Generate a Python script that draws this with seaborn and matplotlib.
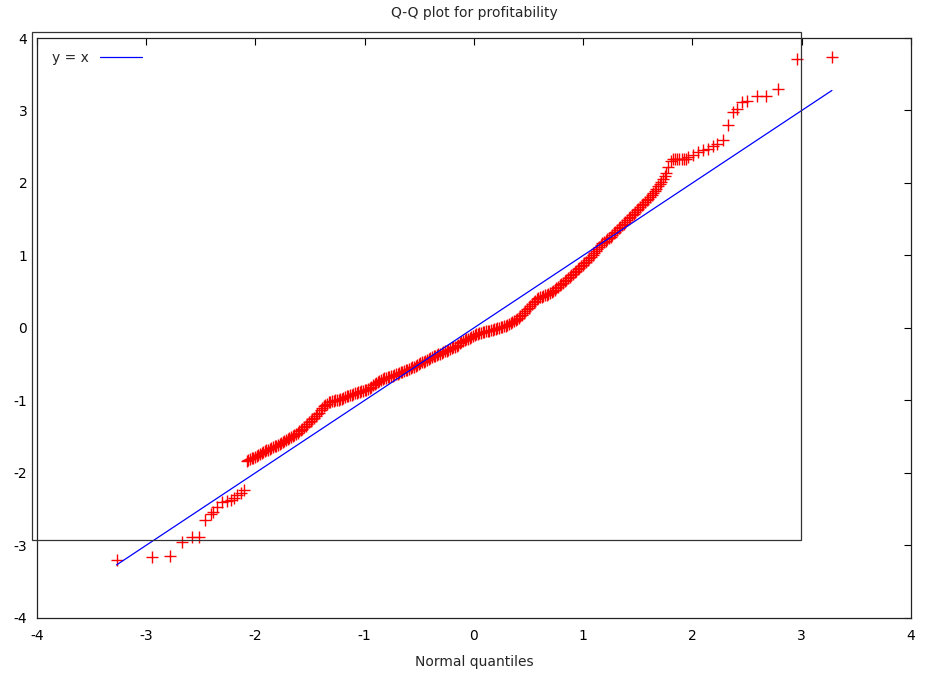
import numpy as np
import pandas as pd
import matplotlib
matplotlib.use("Agg")
import matplotlib.pyplot as plt
import seaborn as sns
from matplotlib.patches import Rectangle

# Normal quantiles (x) and sorted profitability values (y)
lower_x = [-3.272, -2.946, -2.784, -2.677, -2.585, -2.518, -2.463, -2.411, -2.387,
           -2.351, -2.311, -2.265, -2.228, -2.195, -2.168, -2.137, -2.106]
lower_y = [-3.198, -3.166, -3.148, -2.955, -2.890, -2.886, -2.646, -2.573, -2.541,
           -2.472, -2.403, -2.393, -2.370, -2.342, -2.310, -2.279, -2.232]

mid_x = [-2.08, -2.05, -2.02, -1.99, -1.96, -1.93, -1.90, -1.87, -1.84, -1.81,
         -1.78, -1.75, -1.72, -1.69, -1.66, -1.63, -1.60, -1.57, -1.54, -1.51,
         -1.48, -1.45, -1.42, -1.39, -1.36, -1.33, -1.30, -1.27, -1.24, -1.21,
         -1.18, -1.15, -1.12, -1.09, -1.06, -1.03, -1.00, -0.97, -0.94, -0.91,
         -0.88, -0.85, -0.82, -0.79, -0.76, -0.73, -0.70, -0.67, -0.64, -0.61,
         -0.58, -0.55, -0.52, -0.49, -0.46, -0.43, -0.40, -0.37, -0.34, -0.31,
         -0.28, -0.25, -0.22, -0.19, -0.16, -0.13, -0.10, -0.07, -0.04, -0.01,
         0.02, 0.05, 0.08, 0.11, 0.14, 0.17, 0.20, 0.23, 0.26, 0.29,
         0.32, 0.35, 0.38, 0.41, 0.44, 0.47, 0.50, 0.53, 0.56, 0.59,
         0.62, 0.65, 0.68, 0.71, 0.74, 0.77, 0.80, 0.83, 0.86, 0.89,
         0.92, 0.95, 0.98, 1.01, 1.04, 1.07, 1.10, 1.13, 1.16, 1.19,
         1.22, 1.25, 1.28, 1.31, 1.34, 1.37, 1.40, 1.43, 1.46, 1.49,
         1.52, 1.55, 1.58, 1.61, 1.64, 1.67, 1.70, 1.73, 1.76, 1.78, 1.80]
mid_y = [-1.835, -1.815, -1.790, -1.765, -1.740, -1.713, -1.690, -1.670, -1.645, -1.625,
         -1.600, -1.575, -1.550, -1.520, -1.495, -1.465, -1.430, -1.390, -1.350, -1.305,
         -1.260, -1.220, -1.170, -1.110, -1.060, -1.030, -1.010, -1.000, -0.990, -0.975,
         -0.955, -0.935, -0.920, -0.905, -0.890, -0.875, -0.860, -0.845, -0.810, -0.775,
         -0.745, -0.720, -0.695, -0.680, -0.665, -0.650, -0.635, -0.615, -0.595, -0.575,
         -0.555, -0.535, -0.515, -0.490, -0.465, -0.440, -0.415, -0.395, -0.375, -0.355,
         -0.335, -0.315, -0.295, -0.270, -0.245, -0.215, -0.185, -0.160, -0.135, -0.110,
         -0.090, -0.075, -0.060, -0.050, -0.040, -0.025, -0.010, 0.000, 0.010, 0.030,
         0.055, 0.080, 0.110, 0.140, 0.180, 0.230, 0.280, 0.330, 0.375, 0.410,
         0.430, 0.450, 0.470, 0.495, 0.525, 0.565, 0.605, 0.645, 0.685, 0.725,
         0.770, 0.810, 0.850, 0.890, 0.935, 0.980, 1.030, 1.090, 1.145, 1.185,
         1.225, 1.260, 1.305, 1.350, 1.395, 1.440, 1.490, 1.530, 1.575, 1.620,
         1.670, 1.715, 1.760, 1.805, 1.860, 1.920, 1.985, 2.050, 2.140, 2.220, 2.300]

# further readings of the dense band, between the ones above
band_x = [-2.065, -2.035, -2.005, -1.975, -1.945, -1.915, -1.885, -1.855, -1.825, -1.795,
          -1.765, -1.735, -1.705, -1.675, -1.645, -1.615, -1.585, -1.555, -1.525, -1.495,
          -1.465, -1.435, -1.405, -1.375, -1.345, -1.315, -1.285, -1.255, -1.225, -1.195,
          -1.165, -1.135, -1.105, -1.075, -1.045, -1.015, -0.985, -0.955, -0.925, -0.895,
          -0.865, -0.835, -0.805, -0.775, -0.745, -0.715, -0.685, -0.655, -0.625, -0.595,
          -0.565, -0.535, -0.505, -0.475, -0.445, -0.415, -0.385, -0.355, -0.325, -0.295,
          -0.265, -0.235, -0.205, -0.175, -0.145, -0.115, -0.085, -0.055, -0.025, 0.005,
          0.035, 0.065, 0.095, 0.125, 0.155, 0.185, 0.215, 0.245, 0.275, 0.305,
          0.335, 0.365, 0.395, 0.425, 0.455, 0.485, 0.515, 0.545, 0.575, 0.605,
          0.635, 0.665, 0.695, 0.725, 0.755, 0.785, 0.815, 0.845, 0.875, 0.905,
          0.935, 0.965, 0.995, 1.025, 1.055, 1.085, 1.115, 1.145, 1.175, 1.205,
          1.235, 1.265, 1.295, 1.325, 1.355, 1.385, 1.415, 1.445, 1.475, 1.505,
          1.535, 1.565, 1.595, 1.625, 1.655, 1.685, 1.715, 1.745]
band_y = [-1.825, -1.802, -1.778, -1.752, -1.727, -1.702, -1.680, -1.657, -1.635, -1.612,
          -1.588, -1.562, -1.535, -1.508, -1.480, -1.448, -1.410, -1.370, -1.328, -1.282,
          -1.240, -1.195, -1.140, -1.085, -1.045, -1.020, -1.005, -0.995, -0.982, -0.965,
          -0.945, -0.928, -0.912, -0.898, -0.882, -0.868, -0.852, -0.828, -0.792, -0.760,
          -0.732, -0.708, -0.688, -0.672, -0.658, -0.642, -0.625, -0.605, -0.585, -0.565,
          -0.545, -0.525, -0.502, -0.478, -0.452, -0.428, -0.405, -0.385, -0.365, -0.345,
          -0.325, -0.305, -0.282, -0.258, -0.230, -0.200, -0.172, -0.148, -0.122, -0.100,
          -0.082, -0.068, -0.055, -0.045, -0.032, -0.018, -0.005, 0.005, 0.020, 0.042,
          0.068, 0.095, 0.125, 0.160, 0.205, 0.255, 0.305, 0.352, 0.392, 0.420,
          0.440, 0.460, 0.482, 0.510, 0.545, 0.585, 0.625, 0.665, 0.705, 0.748,
          0.790, 0.830, 0.870, 0.912, 0.958, 1.005, 1.060, 1.118, 1.165, 1.205,
          1.242, 1.282, 1.328, 1.372, 1.418, 1.465, 1.510, 1.552, 1.598, 1.645,
          1.692, 1.738, 1.782, 1.832, 1.890, 1.952, 2.018, 2.095]

flat_x = [1.82, 1.84, 1.86, 1.88, 1.90, 1.92, 1.94]
flat_y = [2.325, 2.325, 2.325, 2.325, 2.325, 2.325, 2.330]

upper_x = [1.962, 2.008, 2.054, 2.100, 2.146, 2.186, 2.228, 2.283, 2.329, 2.375,
           2.411, 2.451, 2.497, 2.589, 2.674, 2.787, 2.955, 3.276]
upper_y = [2.359, 2.382, 2.420, 2.451, 2.474, 2.506, 2.534, 2.589, 2.796, 2.980,
           3.017, 3.110, 3.132, 3.201, 3.201, 3.293, 3.717, 3.731]

x_ticks = [-4, -3, -2, -1, 0, 1, 2, 3, 4]
y_ticks = [-4, -3, -2, -1, 0, 1, 2, 3, 4]

qx = lower_x + mid_x + band_x + flat_x + upper_x
qy = lower_y + mid_y + band_y + flat_y + upper_y
df = pd.DataFrame({"normal": qx, "profitability": qy}).sort_values("normal")
ref = pd.DataFrame({"x": [min(qx), max(qx)], "y": [min(qx), max(qx)]})

sns.set_theme(style="white")
plt.rcParams["font.family"] = ["DejaVu Sans"]

fig = plt.figure(figsize=(9.28, 6.79), dpi=100)
ax = fig.add_axes([37 / 928, 1 - 617.7 / 679, (911 - 37) / 928, (617.7 - 38) / 679])

sns.scatterplot(data=df, x="normal", y="profitability", marker="+", s=82,
                color="#ff0000", linewidth=1.0, ax=ax, zorder=2, legend=False)
sns.lineplot(data=ref, x="x", y="y", color="#0000ff", linewidth=0.9, ax=ax,
             zorder=3, label="y = x")

ax.set_xlim(-4, 4)
ax.set_ylim(-4, 4)
ax.set_xticks(x_ticks)
ax.set_yticks(y_ticks)
ax.set_xticklabels([str(t) for t in x_ticks])
ax.set_yticklabels([str(t) for t in y_ticks])
ax.tick_params(axis="both", direction="in", length=5, width=0.8, colors="black",
               labelsize=10, top=True, right=True)
ax.tick_params(axis="x", pad=8)
ax.tick_params(axis="y", pad=7)
for s in ax.spines.values():
    s.set_color("#222222")
    s.set_linewidth(0.9)

ax.set_xlabel("Normal quantiles", fontsize=10, labelpad=9)
ax.set_ylabel("")
ax.set_title("Q-Q plot for profitability", fontsize=10, pad=15)

leg = ax.legend(loc="upper left", frameon=False, markerfirst=False, fontsize=10,
                handlelength=3.0, handletextpad=0.8, borderaxespad=0.3,
                bbox_to_anchor=(0.006, 0.995))

# stray frame drawn in the original picture
fig.patches.append(Rectangle((32.3 / 928, 1 - 540.3 / 679), (800.7 - 32.3) / 928,
                             (540.3 - 31.7) / 679, transform=fig.transFigure,
                             fill=False, edgecolor="#333333", linewidth=0.9, zorder=5))

fig.savefig("out.png", dpi=100)
